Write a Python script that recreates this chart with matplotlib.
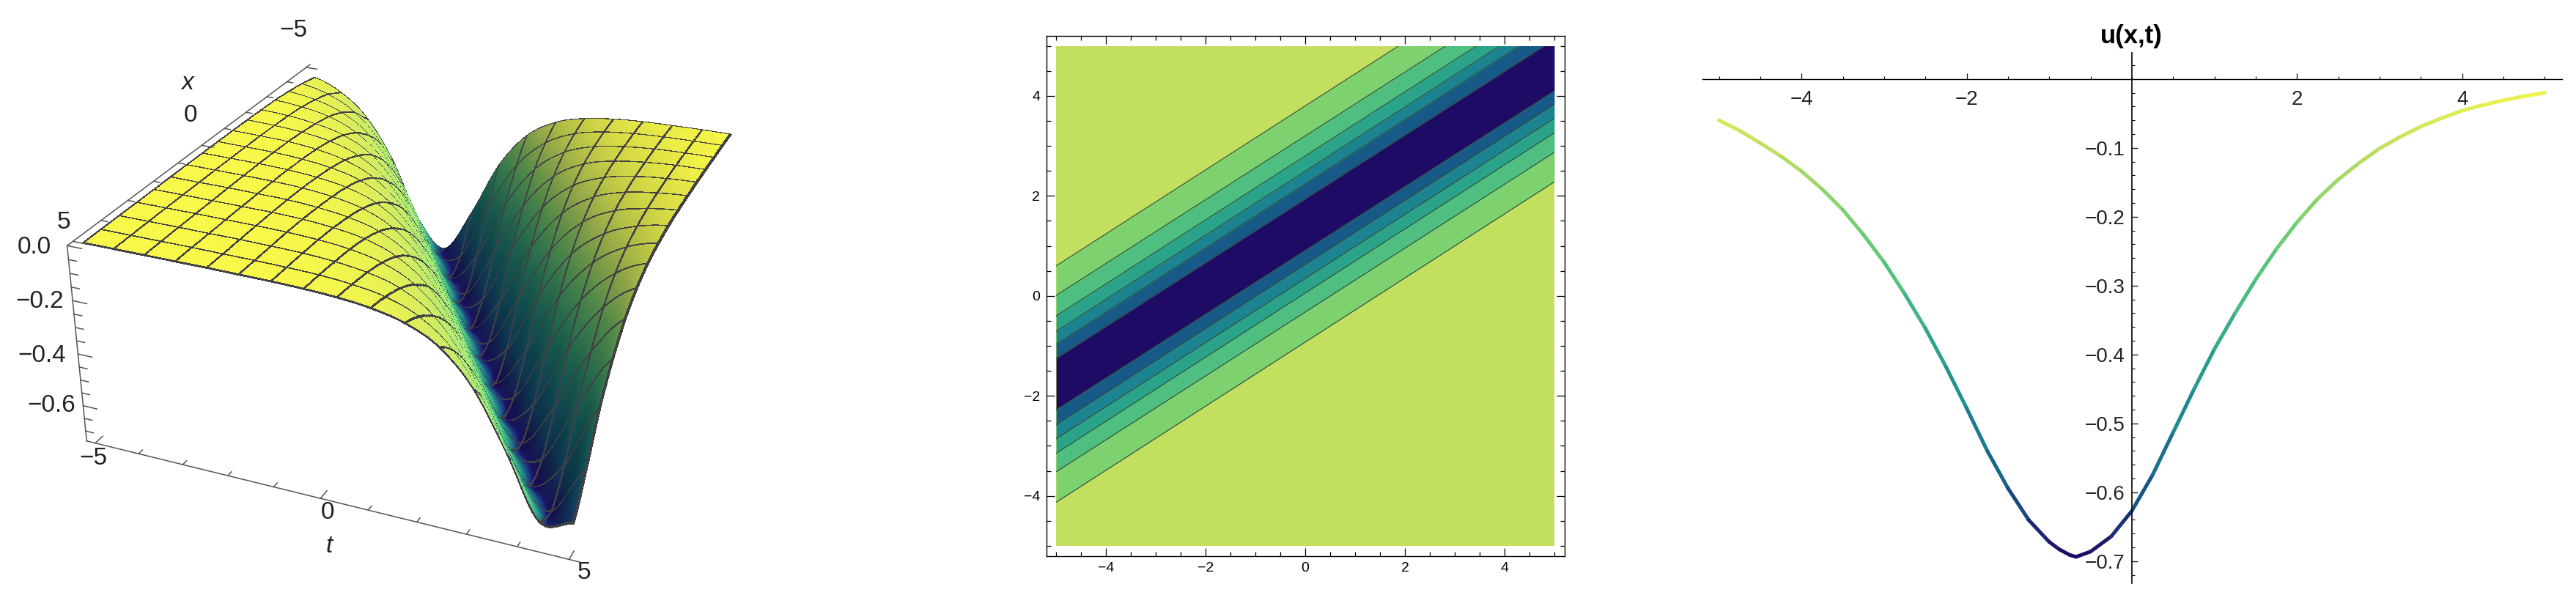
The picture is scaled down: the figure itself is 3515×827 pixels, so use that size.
"""
Three panel figure for the travelling wave u(x,t): surface, contour map and a slice at fixed t.
"""

import numpy as np
import matplotlib
matplotlib.use("Agg")
import matplotlib.pyplot as plt
from matplotlib.collections import LineCollection
from matplotlib.colors import LinearSegmentedColormap, Normalize
from matplotlib.patches import Rectangle
from matplotlib.ticker import MultipleLocator, FixedLocator

plt.rcParams['font.family'] = ['Liberation Sans', 'DejaVu Sans']

# surface samples, one row per t, one column per x
x_grid = np.linspace(-5, 5, 16)
t_grid = np.linspace(-5, 5, 16)
u_rows = [
    [-.036, -.023, -.014, -.008, -.005, -.003, -.002, -.001, -.001, 0, 0, 0, 0, 0, 0, 0],
    [-.080, -.049, -.030, -.018, -.011, -.007, -.004, -.003, -.002, -.001, -.001, 0, 0, 0, 0, 0],
    [-.170, -.106, -.065, -.039, -.025, -.015, -.008, -.005, -.003, -.002, -.001, -.001, 0, 0, 0, 0],
    [-.337, -.221, -.139, -.086, -.052, -.032, -.019, -.012, -.007, -.004, -.003, -.002, -.001, -.001, 0, 0],
    [-.578, -.419, -.286, -.181, -.111, -.069, -.042, -.026, -.016, -.009, -.005, -.003, -.002, -.001, -.001, 0],
    [-.685, -.649, -.513, -.355, -.233, -.148, -.091, -.055, -.034, -.021, -.013, -.007, -.004, -.003, -.002, -.001],
    [-.507, -.644, -.687, -.595, -.438, -.300, -.190, -.119, -.073, -.045, -.028, -.017, -.010, -.006, -.004, -.002],
    [-.280, -.412, -.571, -.680, -.660, -.533, -.374, -.249, -.156, -.097, -.059, -.036, -.022, -.014, -.008, -.005],
    [-.136, -.217, -.331, -.485, -.628, -.691, -.612, -.460, -.312, -.203, -.127, -.078, -.048, -.030, -.018, -.011],
    [-.064, -.104, -.166, -.266, -.395, -.554, -.670, -.670, -.552, -.393, -.264, -.164, -.103, -.063, -.038, -.024],
    [-.030, -.048, -.078, -.128, -.204, -.314, -.464, -.615, -.692, -.626, -.482, -.329, -.214, -.135, -.083, -.051],
    [-.014, -.022, -.036, -.059, -.097, -.157, -.250, -.375, -.535, -.661, -.680, -.569, -.410, -.280, -.175, -.108],
    [-.006, -.010, -.017, -.028, -.045, -.073, -.120, -.192, -.300, -.441, -.598, -.687, -.642, -.504, -.347, -.227],
    [-.003, -.004, -.007, -.013, -.021, -.034, -.055, -.092, -.149, -.235, -.357, -.516, -.651, -.685, -.586, -.430],
    [-.001, -.002, -.003, -.005, -.009, -.016, -.026, -.042, -.068, -.112, -.181, -.288, -.420, -.580, -.683, -.655],
    [-.001, -.001, -.002, -.003, -.004, -.007, -.012, -.019, -.032, -.052, -.086, -.140, -.223, -.336, -.495, -.632],
]

# contour lines of the middle panel, where each one meets x = -5 and x = 5
# (upper six run past the top edge, so their right ends are extended along the same slope)
band_left = [.60, .01, -.40, -.71, -.97, -1.25, -2.28, -2.58, -2.86, -3.15, -3.52, -4.13]
band_right = [7.00, 6.39, 6.00, 5.70, 5.45, 5.13, 4.10, 3.83, 3.55, 3.26, 2.87, 2.28]
band_colors = ['#7DD16E', '#4EBF80', '#2BA38A', '#1B8490', '#175A88', '#1E0B66',
               '#175A88', '#1B8490', '#2BA38A', '#4EBF80', '#7DD16E']
band_outer = '#C2DF60'

# slice at fixed t, right panel
slice_x = [-5, -4.75, -4.5, -4.25, -4, -3.75, -3.5, -3.25, -3, -2.75, -2.5, -2.25, -2, -1.75, -1.5, -1.25,
           -1, -.875, -.75, -.675, -.5, -.25, 0, .25, .5, .75, 1, 1.25, 1.5, 1.75, 2, 2.25, 2.5, 2.75, 3,
           3.25, 3.5, 3.75, 4, 4.25, 4.5, 4.75, 5]
slice_u = [-.060, -.075, -.093, -.112, -.134, -.160, -.190, -.226, -.266, -.312, -.362, -.418, -.478, -.540,
           -.594, -.640, -.672, -.683, -.691, -.6936, -.686, -.664, -.627, -.575, -.513, -.451, -.392, -.340,
           -.291, -.247, -.208, -.174, -.146, -.122, -.101, -.084, -.069, -.057, -.046, -.038, -.031, -.025, -.020]

value_cmap = LinearSegmentedColormap.from_list(
    'uvals', ['#1E0B66', '#175A88', '#1B8490', '#2BA38A', '#4EBF80', '#7DD16E', '#C2DF60', '#F8F84A'])
lit_cmap = LinearSegmentedColormap.from_list(
    'ulit', ['#1E0B66', '#1A5F9A', '#1FA59A', '#45D68E', '#84EC82', '#B6F47A', '#E4F865', '#F8F84A'])

W, H = 3515, 827
fig = plt.figure(figsize=(W / 100, H / 100), dpi=100)
u_grid = np.array(u_rows)


def px_axes(left, top, right, bottom, **kw):
    return fig.add_axes([left / W, 1 - bottom / H, (right - left) / W, (bottom - top) / H], **kw)


def px_text(x, y, s, **kw):
    fig.text(x / W, 1 - y / H, s, ha='center', va='center', **kw)


def refine(table, sub):
    # Catmull-Rom upsampling along the first axis, only to draw the table smoothly
    n = table.shape[0]
    pos = np.linspace(0, n - 1, (n - 1) * sub + 1)
    i = np.clip(pos.astype(int), 0, n - 2)
    s = (pos - i).reshape((-1,) + (1,) * (table.ndim - 1))
    p0 = table[np.clip(i - 1, 0, n - 1)]
    p1 = table[i]
    p2 = table[i + 1]
    p3 = table[np.clip(i + 2, 0, n - 1)]
    return .5 * (2 * p1 + (p2 - p0) * s + (2 * p0 - 5 * p1 + 4 * p2 - p3) * s ** 2
                 + (3 * p1 - p0 - 3 * p2 + p3) * s ** 3)


def refine2(table, sub):
    return refine(refine(table, sub).T, sub).T


# --- left: surface ---
ax3d = px_axes(-133, -186, 1267, 984, projection='3d', computed_zorder=False)
sub = 14
z_fine = np.minimum(refine2(u_grid, sub), 0)
x_fine = np.linspace(x_grid[0], x_grid[-1], z_fine.shape[1])
t_fine = np.linspace(t_grid[0], t_grid[-1], z_fine.shape[0])
X, T = np.meshgrid(x_fine, t_fine)

grad = np.gradient(z_fine, axis=0)
slope = grad / np.abs(grad).max()
dark = np.clip(slope, 0, 1) ** .5
light = np.clip(-slope, 0, 1) ** .5
value = Normalize(-.693, 0)(z_fine)
# the slope facing the light reads brighter, the other one darker
rgba = value_cmap(value)
lit = lit_cmap(value + (1 - value) * .45 * light)
for c in range(3):
    rgba[..., c] = rgba[..., c] * (1 - .5 * dark)
    rgba[..., c] = rgba[..., c] * (1 - light) + lit[..., c] * light
mesh = np.zeros_like(z_fine, dtype=bool)
mesh[::sub, :] = True
mesh[:, ::sub] = True
mesh[-2, :] = True
mesh[:, -2] = True
rgba[mesh] = (.25, .25, .27, 1)

ax3d.plot_surface(X, T, z_fine, facecolors=rgba, rstride=1, cstride=1, linewidth=0,
                  antialiased=False, shade=False, zorder=1)
ax3d.set_xlim(-5.2, 5.2)
ax3d.set_ylim(-5.2, 5.2)
ax3d.set_zlim(-.74, 0)
ax3d.set_box_aspect((1, 1, .42), zoom=.835)
ax3d.set_proj_type('persp', focal_length=.40)
ax3d.view_init(elev=27.5, azim=23)
ax3d.set_axis_off()

# axis lines and ticks drawn by hand, the way Mathematica places them
line_kw = dict(color='#555555', lw=1.1, zorder=3)
ax3d.plot([5.2, 5.2], [-5.2, -5.2], [0, -.74], **line_kw)
ax3d.plot([5.2, 5.2], [-5.2, 5.2], [-.74, -.74], **line_kw)
ax3d.plot([5.2, -5.2], [-5.2, -5.2], [0, 0], **line_kw)
for v in np.arange(-5, 5.5, 1):
    size = .28 if v % 5 == 0 else .15
    ax3d.plot([5.2, 5.2 - size], [v, v], [-.74, -.74], **line_kw)
    ax3d.plot([v, v], [-5.2, -5.2 + size], [0, 0], **line_kw)
for k in range(15):
    v = -k * .05
    size = .32 if k % 4 == 0 else .18
    ax3d.plot([5.2, 5.2], [-5.2, -5.2 + size], [v, v], **line_kw)

label_kw = dict(fontsize=24, color='#222222')
for x, y, s in [(400, 41, '\u22125'), (260, 157, '0'), (87, 303, '5'),
                (47, 337, '0.0'), (54, 411, '\u22120.2'), (57, 485, '\u22120.4'), (70, 554, '\u22120.6'),
                (127, 625, '\u22125'), (447, 699, '0'), (797, 781, '5')]:
    px_text(x, y, s, **label_kw)
px_text(449, 746, 't', style='italic', **label_kw)
px_text(256, 113, 'x', style='italic', **label_kw)

# --- middle: contour map ---
ax2 = px_axes(1427.5, 49, 2134.5, 758.5)
clip_box = Rectangle((-5, -5), 10, 10, transform=ax2.transData)
ax2.add_patch(Rectangle((-5, -5), 10, 10, color=band_outer, lw=0))
edge_x = [-5, 5]
for k, color in enumerate(band_colors):
    band = ax2.fill_between(edge_x, [band_left[k + 1], band_right[k + 1]], [band_left[k], band_right[k]],
                            color=color, lw=0)
    band.set_clip_path(clip_box)
for left, right in zip(band_left, band_right):
    edge, = ax2.plot(edge_x, [left, right], color='#2d4a3a', lw=.8)
    edge.set_clip_path(clip_box)
ax2.set_xlim(-5.2, 5.2)
ax2.set_ylim(-5.2, 5.2)
ax2.xaxis.set_major_locator(MultipleLocator(2))
ax2.yaxis.set_major_locator(MultipleLocator(2))
ax2.xaxis.set_minor_locator(MultipleLocator(.5))
ax2.yaxis.set_minor_locator(MultipleLocator(.5))
ax2.tick_params(which='major', direction='in', length=8, width=.9, top=True, right=True, labelsize=14, pad=6)
ax2.tick_params(which='minor', direction='in', length=4.5, width=.9, top=True, right=True)
for sp in ax2.spines.values():
    sp.set_linewidth(1)

# --- right: slice ---
ax3 = px_axes(2323, 72, 3496, 796)
ax3.set_xlim(-5.2, 5.21)
ax3.set_ylim(-.732, .038)
points = np.column_stack([slice_x, slice_u])
segments = np.stack([points[:-1], points[1:]], axis=1)
mid_u = (np.array(slice_u[:-1]) + np.array(slice_u[1:])) / 2
lines = LineCollection(segments, cmap=value_cmap, norm=Normalize(-.693, 0), linewidths=3.6, capstyle='round')
lines.set_array(mid_u)
ax3.add_collection(lines)

ax3.spines['top'].set_visible(False)
ax3.spines['right'].set_visible(False)
ax3.spines['bottom'].set_position(('data', 0))
ax3.spines['left'].set_position(('data', 0))
ax3.spines['left'].set_linewidth(1.2)
ax3.spines['bottom'].set_linewidth(1)
ax3.xaxis.set_major_locator(FixedLocator([-4, -2, 2, 4]))
ax3.xaxis.set_minor_locator(MultipleLocator(.5))
ax3.yaxis.set_major_locator(FixedLocator([-.1, -.2, -.3, -.4, -.5, -.6, -.7]))
ax3.yaxis.set_minor_locator(MultipleLocator(.02))
ax3.tick_params(which='major', direction='in', length=6, width=1, labelsize=20, pad=11, colors='#222222')
ax3.tick_params(axis='y', which='major', pad=7)
ax3.tick_params(which='minor', direction='in', length=3, width=.8)
px_text(2908, 50, 'u(x,t)', fontsize=25, fontweight='bold')

fig.savefig('out.png', dpi=100)
plt.close(fig)
